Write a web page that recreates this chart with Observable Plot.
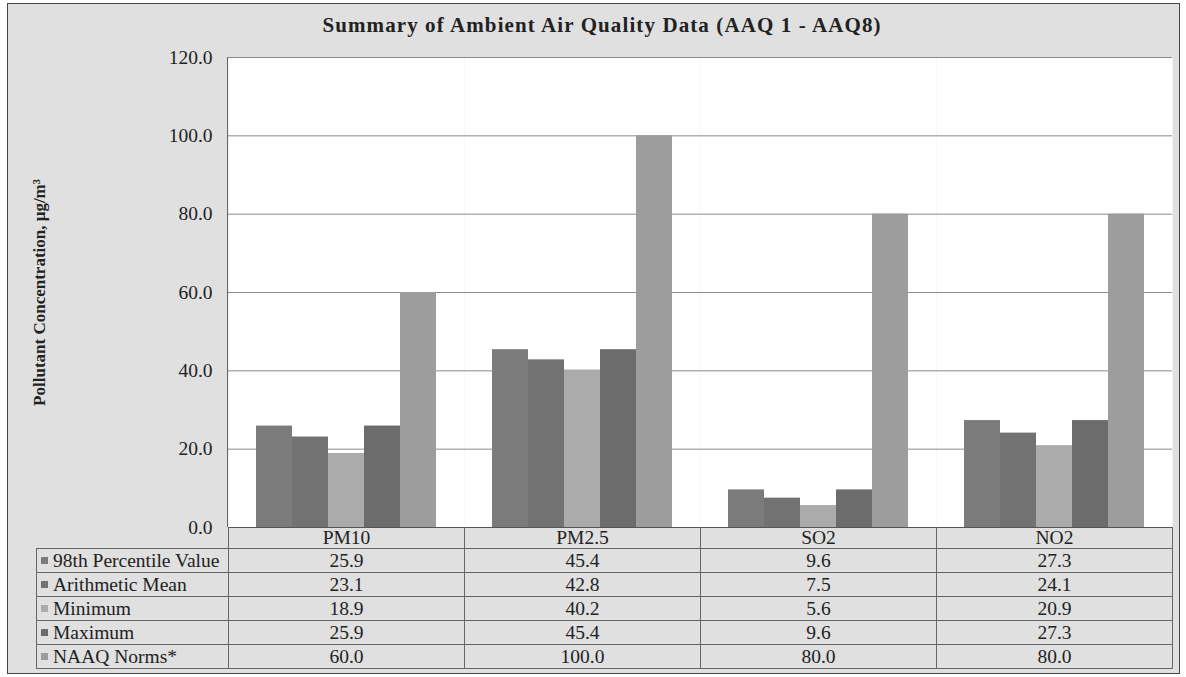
<!DOCTYPE html>
<html>
<head>
<meta charset="utf-8">
<script src="https://cdn.jsdelivr.net/npm/d3@7"></script>
<script src="https://cdn.jsdelivr.net/npm/@observablehq/plot@0.6"></script>
<style>
  html, body { margin: 0; padding: 0; background: #ffffff; }
  #wrap { position: relative; width: 1186px; height: 677px; font-family: "Liberation Serif", "DejaVu Serif", serif; color: #222; }
  #box { position: absolute; left: 7px; top: 3px; width: 1171px; height: 669px; background: #e0e0e0; border: 1px solid #444; }
  #title { position: absolute; left: 9px; width: 1186px; top: 13px; text-align: center; font-weight: bold; font-size: 21px; letter-spacing: 1.1px; }
  #chart { position: absolute; left: 0; top: 0; }
  #leftline { position: absolute; left: 227px; top: 57px; width: 0; height: 470px; border-left: 1px solid #666; }
  #tbl { position: absolute; left: 36px; top: 527px; border-collapse: collapse; font-size: 19.5px; table-layout: fixed; }
  #tbl td { border: 1px solid #666; padding: 0; text-align: center; line-height: 20px; height: 23px; }
  #tbl tr.head td { height: 21px; border-top: none; }
  #tbl tr.head td.blank { border: none; }
  #tbl td.lab { text-align: left; padding-left: 4px; white-space: nowrap; }
  .sw { display: inline-block; width: 7px; height: 7px; margin-right: 5px; vertical-align: 3px; }
  g[aria-label="y-axis label"] text { font-weight: bold; font-size: 17px; }
</style>
</head>
<body>
<div id="wrap">
  <div id="box"></div>
  <div id="title"></div>
  <div id="chart"></div>
  <div id="leftline"></div>
  <table id="tbl"></table>
</div>
<script>
const titleText = "Summary of Ambient Air Quality Data (AAQ 1 - AAQ8)";
const yLabel = "Pollutant Concentration, μg/m³";
const categories = ["PM10", "PM2.5", "SO2", "NO2"];
const seriesNames = ["98th Percentile Value", "Arithmetic Mean", "Minimum", "Maximum", "NAAQ Norms*"];
const p98Values = [25.9, 45.4, 9.6, 27.3];
const meanValues = [23.1, 42.8, 7.5, 24.1];
const minValues = [18.9, 40.2, 5.6, 20.9];
const maxValues = [25.9, 45.4, 9.6, 27.3];
const normValues = [60.0, 100.0, 80.0, 80.0];
const seriesColors = ["#7b7b7b", "#727272", "#ababab", "#6c6c6c", "#9d9d9d"];
const yTicks = [0, 20, 40, 60, 80, 100, 120];

const seriesValues = [p98Values, meanValues, minValues, maxValues, normValues];
const data = [];
categories.forEach((c, i) => {
  seriesNames.forEach((s, j) => {
    data.push({category: c, series: s, value: seriesValues[j][i]});
  });
});

document.getElementById("title").textContent = titleText;

const chart = Plot.plot({
  width: 1186,
  height: 540,
  marginLeft: 228,
  marginRight: 14,
  marginTop: 57,
  marginBottom: 13,
  style: {background: "transparent", fontFamily: "Liberation Serif, serif", fontSize: "19.5px", color: "#222", overflow: "visible"},
  fx: {domain: categories, padding: 0, axis: null},
  x: {domain: seriesNames, paddingInner: 0, paddingOuter: 0.74, axis: null},
  y: {domain: [0, 120]},
  color: {domain: seriesNames, range: seriesColors},
  marks: [
    Plot.frame({fill: "white", stroke: "none"}),
    Plot.gridY(yTicks, {stroke: "#8a8a8a", strokeOpacity: 1}),
    Plot.barY(data, {fx: "category", x: "series", y: "value", fill: "series"}),
    Plot.ruleY([0], {stroke: "#555"}),
    Plot.axisY(yTicks, {
      tickSize: 0, tickPadding: 16, tickFormat: d => d.toFixed(1),
      label: yLabel, labelAnchor: "center", labelOffset: 196, labelArrow: "none"
    })
  ]
});
document.getElementById("chart").appendChild(chart);

// data table below the chart
const tbl = document.getElementById("tbl");
const colgroup = document.createElement("colgroup");
[192, 236, 236, 236, 236].forEach(w => {
  const col = document.createElement("col");
  col.style.width = w + "px";
  colgroup.appendChild(col);
});
tbl.appendChild(colgroup);
const head = document.createElement("tr");
head.className = "head";
const blank = document.createElement("td");
blank.className = "blank";
head.appendChild(blank);
categories.forEach(c => {
  const td = document.createElement("td");
  td.textContent = c;
  head.appendChild(td);
});
tbl.appendChild(head);
seriesNames.forEach((s, j) => {
  const tr = document.createElement("tr");
  const lab = document.createElement("td");
  lab.className = "lab";
  const sw = document.createElement("span");
  sw.className = "sw";
  sw.style.background = seriesColors[j];
  lab.appendChild(sw);
  lab.appendChild(document.createTextNode(s));
  tr.appendChild(lab);
  seriesValues[j].forEach(v => {
    const td = document.createElement("td");
    td.textContent = v.toFixed(1);
    tr.appendChild(td);
  });
  tbl.appendChild(tr);
});
</script>
</body>
</html>
